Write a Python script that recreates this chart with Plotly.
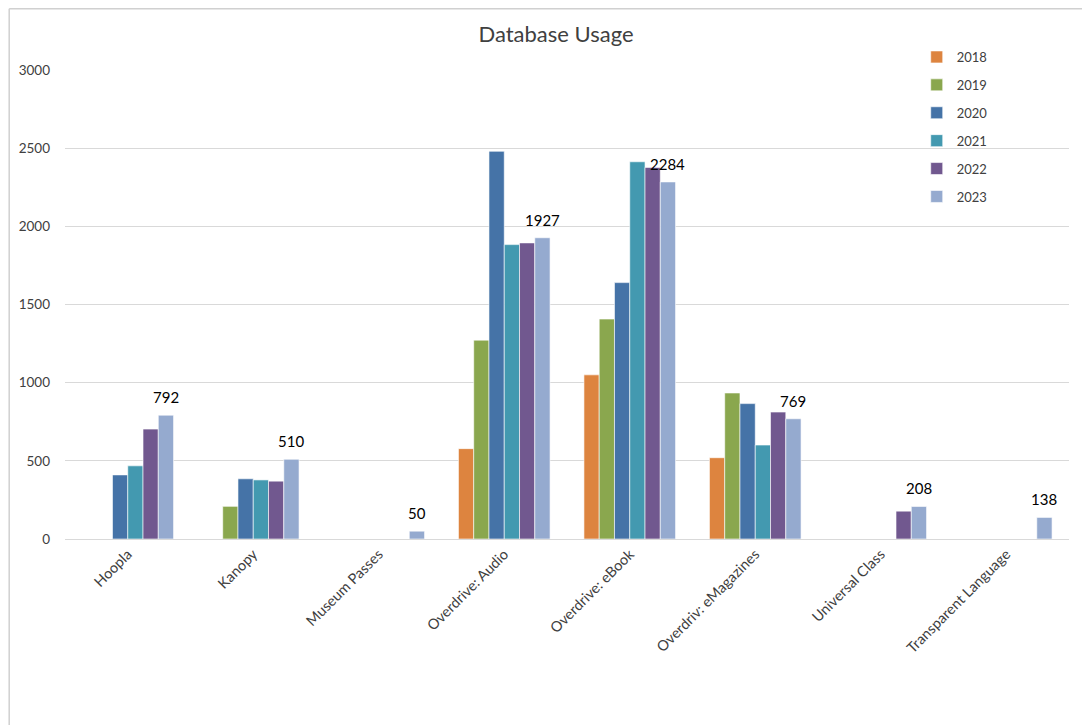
import plotly.graph_objects as go

categories = ["Hoopla", "Kanopy", "Museum Passes", "Overdrive: Audio", "Overdrive: eBook",
              "Overdriv: eMagazines", "Universal Class", "Transparent Language"]
years = ["2018", "2019", "2020", "2021", "2022", "2023"]
v2018 = [None, None, None, 578, 1050, 520, None, None]
v2019 = [None, 209, None, 1272, 1407, 934, None, None]
v2020 = [410, 385, None, 2480, 1640, 866, None, None]
v2021 = [468, 378, None, 1883, 2413, 601, None, None]
v2022 = [703, 370, None, 1894, 2377, 812, 178, None]
v2023 = [792, 510, 50, 1927, 2284, 769, 208, 138]
series = [v2018, v2019, v2020, v2021, v2022, v2023]
colors = ["#DD843F", "#8AA74E", "#4573A7", "#4399B0", "#71588F", "#95AACF"]
y_ticks = [0, 500, 1000, 1500, 2000, 2500, 3000]

FONT = "Lato, 'Open Sans', sans-serif"

# page offset of the figure (browser body margin)
OFF = 8
W, H = 1090, 725
# plot area in page coordinates
PL, PR, PT, PB = 64.6, 1069.4, 70, 539
L = PL - OFF
R = W - (PR - OFF)
T = PT - OFF
B = H - (PB - OFF)
pw = PR - PL
ph = PB - PT

def px_x(p):
    return (p - PL) / pw

def px_y(p):
    return (PB - p) / ph

BARGAP = 0.27
cat_px = pw / len(categories)
bar_px = cat_px * (1 - BARGAP) / len(years)
last_offset = (len(years) - 1 - (len(years) - 1) / 2) * bar_px

fig = go.Figure()
for yr, vals, col in zip(years, series, colors):
    fig.add_trace(go.Bar(
        name=yr, x=categories, y=vals,
        marker=dict(color=col, line=dict(color="white", width=0.6)),
        legendgroup=yr,
    ))

annotations = []
for cat, v in zip(categories, v2023):
    annotations.append(dict(
        x=cat, y=v, xref="x", yref="y", text=str(v), showarrow=False,
        xshift=last_offset, yshift=18, yanchor="middle", xanchor="center",
        font=dict(size=15, color="#000000", family=FONT),
    ))

fig.update_layout(
    width=W, height=H,
    margin=dict(l=L, r=R, t=T, b=B),
    paper_bgcolor="white", plot_bgcolor="white",
    barmode="group", bargap=BARGAP, bargroupgap=0,
    title=dict(text="Database Usage", x=(556 - OFF) / W, xanchor="center",
               y=1 - (34 - OFF) / H, yanchor="middle",
               font=dict(size=22, color="#404040", family=FONT)),
    font=dict(family=FONT, color="#595959", size=13),
    xaxis=dict(showgrid=False, showline=True, linecolor="#D9D9D9", linewidth=1.3,
               tickangle=-45, tickfont=dict(size=14.5, color="#404040"), ticks=""),
    yaxis=dict(range=[0, 3000], tickvals=y_ticks, showgrid=True, gridcolor="#D9D9D9",
               gridwidth=1.3, zeroline=False, showline=False, ticks="",
               tickfont=dict(size=13.5, color="#404040"), ticklabelstandoff=14),
    legend=dict(x=px_x(917), y=px_y(42), xanchor="left", yanchor="top",
                font=dict(size=13, color="#404040"), bgcolor="rgba(0,0,0,0)",
                traceorder="grouped", tracegroupgap=8),
    showlegend=True,
    annotations=annotations,
    shapes=[
        dict(type="line", xref="paper", yref="paper", x0=px_x(OFF + 0.75), x1=px_x(OFF + 0.75),
             y0=px_y(OFF + 0.75), y1=px_y(H + OFF + 5), line=dict(color="#D0D0D0", width=1.5)),
        dict(type="line", xref="paper", yref="paper", x0=px_x(OFF + 0.75), x1=px_x(W + OFF + 5),
             y0=px_y(OFF + 0.75), y1=px_y(OFF + 0.75), line=dict(color="#D0D0D0", width=1.5)),
    ],
)

fig.write_html("out.html")
